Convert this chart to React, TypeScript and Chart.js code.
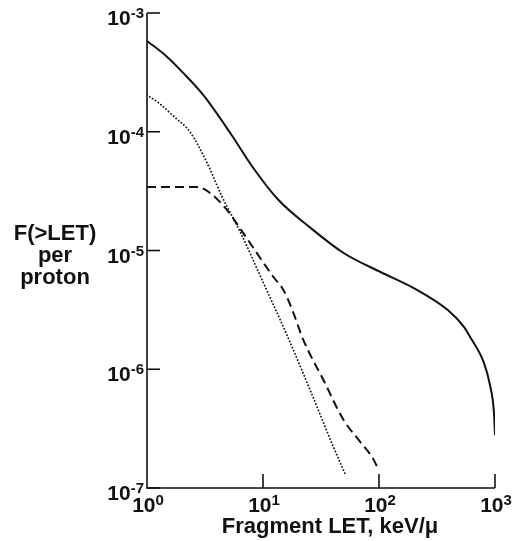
import React, { useEffect, useRef } from "react";
import { Chart, registerables } from "chart.js";

Chart.register(...registerables);

// Solid curve
const totalLET = [1, 1.43, 2.05, 3.05, 5.22, 8.25, 13.6, 25.7, 49.5, 103, 199, 392, 540, 596, 803, 905, 980, 1000];
const totalF = [5.81e-4, 4.43e-4, 3.13e-4, 2.04e-4, 9.76e-5, 4.95e-5, 2.66e-5, 1.55e-5, 9.53e-6, 6.59e-6, 4.83e-6, 3.15e-6, 2.27e-6, 1.94e-6, 1.13e-6, 7.36e-7, 4.28e-7, 2.79e-7];

// Dotted curve
const dottedLET = [1, 1.3, 1.68, 2.35, 3.3, 4.45, 6.37, 10.1, 16.2, 27.2, 40.5, 51.5];
const dottedF = [2.04e-4, 1.71e-4, 1.36e-4, 9.96e-5, 5.46e-5, 2.82e-5, 1.43e-5, 5.32e-6, 1.91e-6, 5.73e-7, 2.21e-7, 1.29e-7];

// Dashed curve
const dashedLET = [1, 2.7, 3.5, 4.9, 6.76, 12.3, 15, 17.9, 22.3, 33.2, 49.5, 66.7, 88.1, 100];
const dashedF = [3.43e-5, 3.43e-5, 3.05e-5, 2.19e-5, 1.4e-5, 5.98e-6, 4.65e-6, 3.15e-6, 1.76e-6, 8.11e-7, 3.74e-7, 2.54e-7, 1.79e-7, 1.4e-7];

const xTickExps = [0, 1, 2, 3];
const yTickExps = [-3, -4, -5, -6, -7];
const xTitle = "Fragment LET, keV/\u03bc";
const yTitleLines = ["F(>LET)", "per", "proton"];

const FONT = '"Liberation Sans", Arial, sans-serif';

function pts(xs: number[], ys: number[]) {
  return xs.map((x, i) => ({ x, y: ys[i] }));
}

const axesPlugin = {
  id: "customAxes",
  afterDraw(chart: any) {
    const ctx = chart.ctx as CanvasRenderingContext2D;
    const xs = chart.scales.x;
    const ys = chart.scales.y;
    const left = xs.getPixelForValue(1);
    const right = xs.getPixelForValue(1000);
    const top = ys.getPixelForValue(1e-3);
    const bottom = ys.getPixelForValue(1e-7);
    ctx.save();
    ctx.strokeStyle = "#111";
    ctx.fillStyle = "#111";
    ctx.lineWidth = 1.6;
    ctx.beginPath();
    ctx.moveTo(left, top);
    ctx.lineTo(left, bottom);
    ctx.lineTo(right, bottom);
    ctx.stroke();
    ctx.textBaseline = "alphabetic";
    // y ticks (inward) and labels
    for (const e of yTickExps) {
      const y = ys.getPixelForValue(Math.pow(10, e));
      ctx.beginPath();
      ctx.moveTo(left, y);
      ctx.lineTo(left + 13, y);
      ctx.stroke();
      const base = "10";
      const sup = String(e);
      ctx.font = `bold 21px ${FONT}`;
      const wb = ctx.measureText(base).width;
      ctx.font = `bold 15px ${FONT}`;
      const ws = ctx.measureText(sup).width;
      const rightEdge = left - 3;
      ctx.textAlign = "left";
      ctx.font = `bold 21px ${FONT}`;
      ctx.fillText(base, rightEdge - ws - wb, y + 12);
      ctx.font = `bold 15px ${FONT}`;
      ctx.fillText(sup, rightEdge - ws, y + 5);
    }
    // x ticks (inward) and labels
    for (const e of xTickExps) {
      const x = xs.getPixelForValue(Math.pow(10, e));
      if (e > 0) {
        ctx.beginPath();
        ctx.moveTo(x, bottom);
        ctx.lineTo(x, bottom - 14);
        ctx.stroke();
      }
      const base = "10";
      const sup = String(e);
      ctx.font = `bold 21px ${FONT}`;
      const wb = ctx.measureText(base).width;
      ctx.font = `bold 15px ${FONT}`;
      const ws = ctx.measureText(sup).width;
      const start = x - (wb + ws) / 2 + 1;
      ctx.textAlign = "left";
      ctx.font = `bold 21px ${FONT}`;
      ctx.fillText(base, start, bottom + 24);
      ctx.font = `bold 15px ${FONT}`;
      ctx.fillText(sup, start + wb, bottom + 17);
    }
    // titles
    ctx.font = `bold 22px ${FONT}`;
    ctx.textAlign = "center";
    ctx.fillText(xTitle, 330, bottom + 45);
    const baselines = [240, 262, 284];
    yTitleLines.forEach((t, i) => ctx.fillText(t, 55, baselines[i]));
    ctx.restore();
  },
};

export default function App() {
  const ref = useRef<HTMLCanvasElement | null>(null);
  useEffect(() => {
    document.body.style.margin = "0";
    const canvas = ref.current;
    if (!canvas) return;
    const hidden = {
      grid: { display: false, drawTicks: false },
      border: { display: false },
      ticks: { display: false },
    };
    const chart = new Chart(canvas, {
      type: "scatter",
      data: {
        datasets: [
          {
            data: pts(totalLET, totalF),
            showLine: true,
            borderColor: "#111",
            borderWidth: 2,
            pointRadius: 0,
            cubicInterpolationMode: "monotone",
          } as any,
          {
            data: pts(dashedLET, dashedF),
            showLine: true,
            borderColor: "#111",
            borderWidth: 2,
            borderDash: [9, 5],
            pointRadius: 0,
            cubicInterpolationMode: "monotone",
          } as any,
          {
            data: pts(dottedLET, dottedF),
            showLine: true,
            borderColor: "#111",
            borderWidth: 1.8,
            borderDash: [0.1, 3.3],
            borderCapStyle: "round",
            pointRadius: 0,
            cubicInterpolationMode: "monotone",
          } as any,
        ],
      },
      options: {
        responsive: false,
        animation: false,
        events: [],
        layout: { padding: { left: 147, right: 23, top: 13, bottom: 53 } },
        plugins: { legend: { display: false }, tooltip: { enabled: false } },
        scales: {
          x: { type: "logarithmic", min: 1, max: 1000, ...hidden },
          y: { type: "logarithmic", min: 1e-7, max: 1e-3, ...hidden },
        },
      },
      plugins: [axesPlugin],
    });
    return () => chart.destroy();
  }, []);
  return (
    <div style={{ width: 518, height: 541, background: "#fff" }}>
      <canvas ref={ref} width={518} height={541} />
    </div>
  );
}
